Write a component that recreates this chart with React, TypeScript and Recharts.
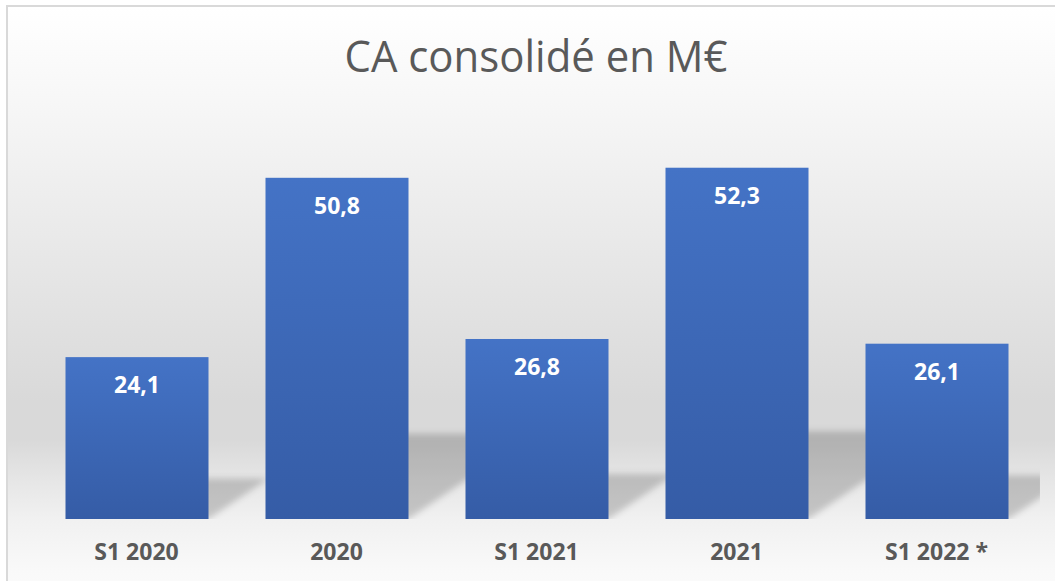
import React from 'react';
import { BarChart, Bar, XAxis, YAxis, LabelList } from 'recharts';

const categories = ['S1 2020', '2020', 'S1 2021', '2021', 'S1 2022 *'];
const revenue = [24.1, 50.8, 26.8, 52.3, 26.1];
const chartTitle = 'CA consolidé en M€';

const data = categories.map((name, i) => ({ name, value: revenue[i] }));

const FONT = "'Open Sans', 'DejaVu Sans', sans-serif";

const BarShape = (props: any) => {
  const { x, y, width, height, index } = props;
  const bottom = y + height;
  const right = x + width;
  const sh = height * 0.25;
  const sk = height * 0.37;
  const clipW = index === data.length - 1 ? width * 1.22 : width * 2;
  return (
    <g>
      <defs>
        <linearGradient id={`barGrad${index}`} x1="0" y1="0" x2="0" y2="1">
          <stop offset="0" stopColor="#4473C6" />
          <stop offset="1" stopColor="#355CA6" />
        </linearGradient>
        <filter id={`shBlur${index}`} x="-30%" y="-30%" width="160%" height="160%">
          <feGaussianBlur stdDeviation="3" />
        </filter>
        <clipPath id={`shClip${index}`}>
          <rect x={x} y={bottom - sh - 20} width={clipW} height={sh + 20} />
        </clipPath>
      </defs>
      <g clipPath={`url(#shClip${index})`}>
        <polygon
          points={`${x},${bottom} ${right},${bottom} ${right + sk},${bottom - sh} ${x + sk},${bottom - sh}`}
          fill="#000"
          fillOpacity={0.18}
          filter={`url(#shBlur${index})`}
        />
      </g>
      <rect x={x} y={y} width={width} height={height} fill={`url(#barGrad${index})`} />
    </g>
  );
};

const Tick = (props: any) => {
  const { x, y, payload } = props;
  return (
    <text x={x} y={y + 41} textAnchor="middle" fill="#595959" fontFamily={FONT} fontWeight={700} fontSize={23}>
      {payload.value}
    </text>
  );
};

const ValueLabel = (props: any) => {
  const { x, y, width, value } = props;
  return (
    <text x={x + width / 2} y={y + 36} textAnchor="middle" fill="#ffffff" fontFamily={FONT} fontWeight={700} fontSize={23}>
      {Number(value).toFixed(1).replace('.', ',')}
    </text>
  );
};

export default function App() {
  return (
    <div
      style={{
        position: 'fixed',
        left: 6,
        top: 5,
        width: 1060,
        height: 590,
        border: '2px solid #d9d9d9',
        overflow: 'hidden',
        background:
          'linear-gradient(to bottom, #ffffff 0%, #f7f7f7 15.8%, #d9d9d9 66.6%, #d9d9d9 73.4%, #e6e6e6 80.2%, #f1f1f1 87%, #f9f9f9 95.4%, #fbfbfb 100%)',
      }}
    >
      <svg width={1052} height={100} style={{ position: 'absolute', left: 0, top: 0 }}>
        <text
          x={528}
          y={65}
          textAnchor="middle"
          fill="#595959"
          fontFamily={FONT}
          fontSize={44}
          textLength={383}
          lengthAdjust="spacingAndGlyphs"
        >
          {chartTitle}
        </text>
      </svg>
      <BarChart
        width={1052}
        height={580}
        data={data}
        margin={{ top: 109, right: 23.5, left: 28.5, bottom: 28 }}
      >
        <XAxis
          dataKey="name"
          axisLine={false}
          tickLine={false}
          tickSize={0}
          tickMargin={0}
          height={40}
          tick={<Tick />}
          interval={0}
        />
        <YAxis hide domain={[0, 60]} />
        <Bar dataKey="value" barSize={143} shape={<BarShape />} isAnimationActive={false}>
          <LabelList dataKey="value" content={<ValueLabel />} />
        </Bar>
      </BarChart>
    </div>
  );
}
